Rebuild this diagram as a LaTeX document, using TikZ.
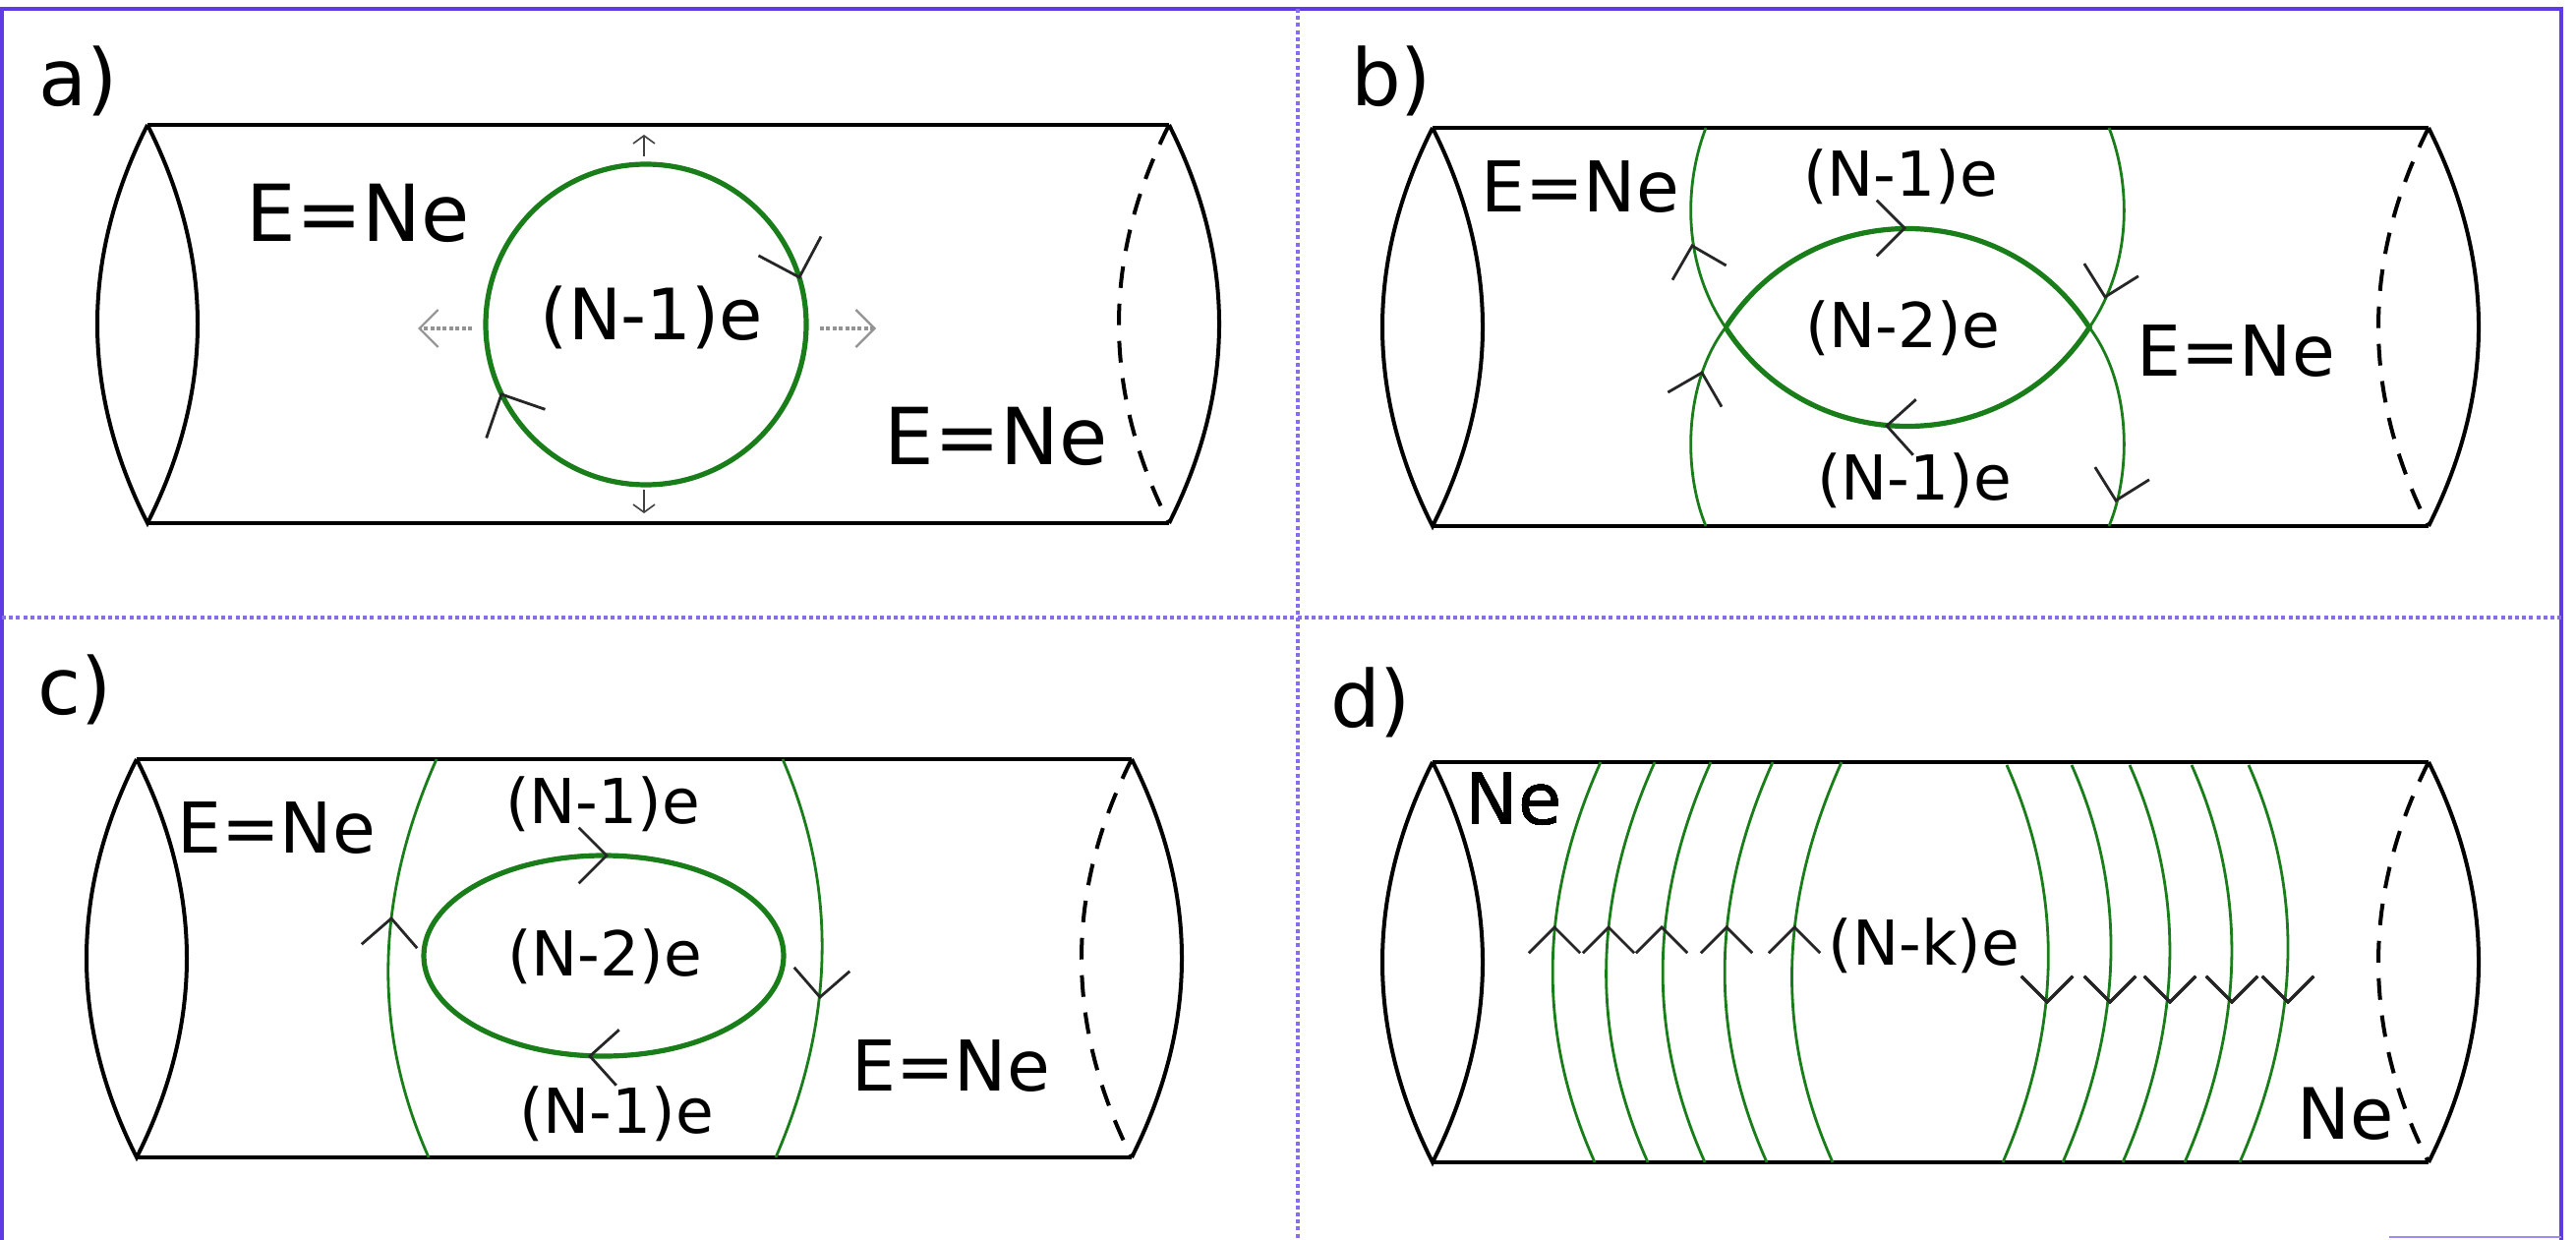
\documentclass[tikz,border=0pt]{standalone}
\usepackage{fontspec}
\setmainfont{DejaVu Sans}
\usepackage{xcolor}
\usepackage{tikz}
\usetikzlibrary{arrows.meta}

\definecolor{frameblue}{RGB}{95,60,225}
\definecolor{wallgreen}{RGB}{25,125,25}

% mũi tên chữ V: [cỡ]{x}{y}{hướng}
\newcommand{\barb}[4][40]{%
  \draw[barbline] (#2,#3) +(#4+135:#1) -- (#2,#3) -- +(#4-135:#1);}

\begin{document}
\begin{tikzpicture}[x=0.25pt, y=-0.25pt,
    tube/.style={line width=1pt, black},
    tubedash/.style={tube, dash pattern=on 5.5pt off 4pt},
    wall/.style={wallgreen, line width=0.7pt},
    ring/.style={wallgreen, line width=1.3pt},
    barbline/.style={black!85, line width=0.7pt},
    frame/.style={frameblue, line width=1pt},
    divider/.style={frameblue!75, line width=0.8pt, dash pattern=on 1pt off 0.8pt},
    panel/.style={inner sep=0pt, font=\fontsize{20}{22}\selectfont},
    bigtxt/.style={inner sep=0pt, font=\fontsize{20}{22}\selectfont},
    eqtxt/.style={inner sep=0pt, font=\fontsize{17.8}{20}\selectfont},
    midtxt/.style={inner sep=0pt, font=\fontsize{18}{20}\selectfont},
    smalltxt/.style={inner sep=0pt, font=\fontsize{15.75}{18}\selectfont},
    grayarrow/.style={gray!85, line width=1.1pt, dash pattern=on 1pt off 0.6pt,
      -{Straight Barb[length=4.75pt, width=9.5pt, line width=0.55pt]}},
    tinyarrow/.style={black!75, line width=0.4pt,
      -{Straight Barb[length=2pt, width=5.5pt]}}]
    \useasboundingbox (0,0) rectangle (2620,1261);

    % Khung
    \draw[frame] (2,1261) -- (2,9) -- (2605,9) -- (2605,1261);
    \draw[frameblue!60, line width=0.4pt] (2430,1258) -- (2605,1258);
    \draw[divider] (1320,9) -- (1320,1261);
    \draw[divider] (2,628) -- (2605,628);

    % Bốn hình trụ
    \foreach \xl/\xr/\yt/\yb in {150/1189/127/532, 1457/2470/130/535,
                                 139/1151/772/1177, 1457/2470/775/1182}{
      \draw[tube] (\xl,\yt) -- (\xr,\yt) (\xl,\yb) -- (\xr,\yb);
      \draw[tube] (\xl,\yt) .. controls (\xl-68,\yt+135) and (\xl-68,\yb-135) .. (\xl,\yb)
                            .. controls (\xl+68,\yb-135) and (\xl+68,\yt+135) .. (\xl,\yt);
      \draw[tube] (\xr,\yt) .. controls (\xr+68,\yt+135) and (\xr+68,\yb-135) .. (\xr,\yb);
      \draw[tubedash] (\xr,\yt) .. controls (\xr-68,\yt+135) and (\xr-68,\yb-135) .. (\xr,\yb);
    }

    % Hình a)
    \node[panel] (la) at (80,82) {a)};
    \draw[ring] (657,330) circle[radius=163];
    \barb[47]{813}{282}{73}
    \barb[47]{510}{401}{244}
    \draw[tinyarrow] (655,159) -- (655,137);
    \draw[tinyarrow] (655,498) -- (655,522);
    \draw[grayarrow] (480,334) -- (425,334);
    \draw[grayarrow] (834,334) -- (891,334);
    \node[bigtxt] (aE1) at (364,217) {E=Ne};
    \node[midtxt] (aN) at (663,323) {(N-1)e};
    \node[bigtxt] (aE2) at (1013,444) {E=Ne};

    % Hình b)
    \node[panel] (lb) at (1415,82) {b)};
    \draw[wall] (1735,130) .. controls (1712,190) and (1712,270) .. (1755,333)
                           .. controls (1712,390) and (1712,480) .. (1735,535);
    \draw[wall] (2145,130) .. controls (2168,190) and (2168,270) .. (2125,333)
                           .. controls (2168,390) and (2168,480) .. (2145,535);
    \draw[ring] (1755,333) .. controls (1841,199) and (2039,199) .. (2125,333)
                           .. controls (2039,467) and (1841,467) .. (1755,333);
    \barb{1721}{250}{255}
    \barb{1731}{379}{285}
    \barb{2141}{302}{103}
    \barb{2152}{509}{103}
    \barb{1937}{232}{0}
    \barb{1919}{433}{183}
    \node[eqtxt] (bE1) at (1607,190) {E=Ne};
    \node[smalltxt] (bN1) at (1933,180) {(N-1)e};
    \node[smalltxt] (bN2) at (1935,334) {(N-2)e};
    \node[eqtxt] (bE2) at (2274,357) {E=Ne};
    \node[smalltxt] (bN3) at (1947,489) {(N-1)e};

    % Hình c)
    \node[panel] (lc) at (76,701) {c)};
    \draw[wall] (444,772) .. controls (384,907) and (376,1042) .. (436,1177);
    \draw[wall] (796,772) .. controls (854,907) and (847,1042) .. (789,1177);
    \draw[ring] (614,972) ellipse[x radius=183, y radius=102];
    \barb{398}{934}{274}
    \barb{834}{1014}{94}
    \barb{617}{870}{0}
    \barb{600}{1074}{183}
    \node[eqtxt] (cE1) at (281,842) {E=Ne};
    \node[smalltxt] (cN1) at (613,818) {(N-1)e};
    \node[smalltxt] (cN2) at (615,973) {(N-2)e};
    \node[eqtxt] (cE2) at (967,1084) {E=Ne};
    \node[smalltxt] (cN3) at (627,1133) {(N-1)e};

    % Hình d)
    \node[panel] (ld) at (1394,714) {d)};
    \foreach \t/\b in {1628/1622, 1683/1676, 1740/1734, 1803/1797, 1873/1864}
      \draw[wall] (\t,775) .. controls (\t-61,911) and (\b-61,1046) .. (\b,1182);
    \foreach \t/\b in {2041/2037, 2107/2098, 2166/2159, 2229/2222, 2287/2278}
      \draw[wall] (\t,778) .. controls (\t+59,911) and (\b+59,1046) .. (\b,1182);
    \foreach \x in {1581,1636,1690,1756,1825} \barb[37]{\x}{943}{270}
    \foreach \x in {2082,2146,2207,2270,2327} \barb[37]{\x}{1019}{90}
    \node[midtxt] (dN1) at (1540,813) {Ne};
    \node[smalltxt] (dN) at (1957,962) {(N-k)e};
    \node[midtxt] (dN2) at (2386,1133) {Ne};
\end{tikzpicture}
\end{document}
